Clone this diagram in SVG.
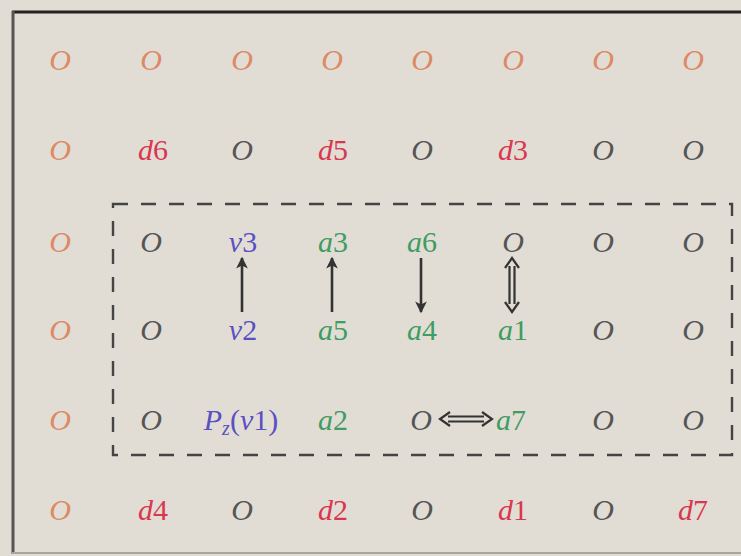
<svg xmlns="http://www.w3.org/2000/svg" width="741" height="556" viewBox="0 0 741 556">
<style>
text{font-family:"Liberation Serif","DejaVu Serif",serif;font-size:30px;font-style:italic;text-anchor:middle}
.n{font-style:normal}
.or{fill:#dc8a66}
.rd{fill:#d8384f}
.bk{fill:#555}
.bl{fill:#5b4fc4}
.gr{fill:#3f9c63}
.ar{stroke:#333;stroke-width:2.6;fill:none}
.dbl{stroke:#333;stroke-width:2.2;fill:none;stroke-linejoin:miter}
</style>
<defs>
<marker id="ah" viewBox="0 0 10 10" refX="9" refY="5" markerWidth="5" markerHeight="4.5" orient="auto" markerUnits="strokeWidth">
<path d="M0,0 L10,5 L0,10 L2.5,5 Z" fill="#333"/>
</marker>
</defs>
<rect width="741" height="556" fill="#e2ddd4"/>
<g id="frame">
<line x1="12" y1="12" x2="741" y2="12" stroke="#222" stroke-width="3"/>
<line x1="13" y1="11" x2="13" y2="554" stroke="#555" stroke-width="3"/>
<line x1="12" y1="553" x2="741" y2="553" stroke="#a8a49e" stroke-width="2"/>
</g>
<g id="region">
<rect x="113" y="204" width="619" height="251" fill="none" stroke="#444" stroke-width="2.4" stroke-dasharray="15 13"/>
</g>
<g id="row1">
<text id="n11" class="or" x="60" y="70">O</text>
<text id="n12" class="or" x="151" y="70">O</text>
<text id="n13" class="or" x="242" y="70">O</text>
<text id="n14" class="or" x="332" y="70">O</text>
<text id="n15" class="or" x="422" y="70">O</text>
<text id="n16" class="or" x="513" y="70">O</text>
<text id="n17" class="or" x="603" y="70">O</text>
<text id="n18" class="or" x="693" y="70">O</text>
</g>
<g id="row2">
<text id="n21" class="or" x="60" y="160">O</text>
<text id="d6" class="rd" x="153" y="160">d<tspan class="n">6</tspan></text>
<text id="n23" class="bk" x="242" y="160">O</text>
<text id="d5" class="rd" x="333" y="160">d<tspan class="n">5</tspan></text>
<text id="n25" class="bk" x="422" y="160">O</text>
<text id="d3" class="rd" x="513" y="160">d<tspan class="n">3</tspan></text>
<text id="n27" class="bk" x="603" y="160">O</text>
<text id="n28" class="bk" x="693" y="160">O</text>
</g>
<g id="row3">
<text id="n31" class="or" x="60" y="252">O</text>
<text id="n32" class="bk" x="151" y="252">O</text>
<text id="v3" class="bl" x="243" y="252">v<tspan class="n">3</tspan></text>
<text id="a3" class="gr" x="333" y="252">a<tspan class="n">3</tspan></text>
<text id="a6" class="gr" x="422" y="252">a<tspan class="n">6</tspan></text>
<text id="n36" class="bk" x="513" y="252">O</text>
<text id="n37" class="bk" x="603" y="252">O</text>
<text id="n38" class="bk" x="693" y="252">O</text>
</g>
<g id="row4">
<text id="n41" class="or" x="60" y="340">O</text>
<text id="n42" class="bk" x="151" y="340">O</text>
<text id="v2" class="bl" x="243" y="340">v<tspan class="n">2</tspan></text>
<text id="a5" class="gr" x="333" y="340">a<tspan class="n">5</tspan></text>
<text id="a4" class="gr" x="422" y="340">a<tspan class="n">4</tspan></text>
<text id="a1" class="gr" x="513" y="340">a<tspan class="n">1</tspan></text>
<text id="n47" class="bk" x="603" y="340">O</text>
<text id="n48" class="bk" x="693" y="340">O</text>
</g>
<g id="row5">
<text id="n51" class="or" x="60" y="430">O</text>
<text id="n52" class="bk" x="151" y="430">O</text>
<text id="pz" class="bl" x="241" y="430">P<tspan font-size="20" dy="5">z</tspan><tspan class="n" dy="-5">(</tspan>v<tspan class="n">1)</tspan></text>
<text id="a2" class="gr" x="333" y="430">a<tspan class="n">2</tspan></text>
<text id="n55" class="bk" x="421" y="430">O</text>
<text id="a7" class="gr" x="511" y="430">a<tspan class="n">7</tspan></text>
<text id="n57" class="bk" x="603" y="430">O</text>
<text id="n58" class="bk" x="693" y="430">O</text>
</g>
<g id="row6">
<text id="n61" class="or" x="60" y="520">O</text>
<text id="d4" class="rd" x="153" y="520">d<tspan class="n">4</tspan></text>
<text id="n63" class="bk" x="242" y="520">O</text>
<text id="d2" class="rd" x="333" y="520">d<tspan class="n">2</tspan></text>
<text id="n65" class="bk" x="422" y="520">O</text>
<text id="d1" class="rd" x="513" y="520">d<tspan class="n">1</tspan></text>
<text id="n67" class="bk" x="603" y="520">O</text>
<text id="d7" class="rd" x="693" y="520">d<tspan class="n">7</tspan></text>
</g>
<g id="connectors">
<line class="ar" x1="242" y1="312" x2="242" y2="258" marker-end="url(#ah)"/>
<line class="ar" x1="332" y1="312" x2="332" y2="258" marker-end="url(#ah)"/>
<line class="ar" x1="421" y1="258" x2="421" y2="312" marker-end="url(#ah)"/>
<path class="dbl" d="M509.5,266 V304 M514.5,266 V304 M505,268 L512,258 L519,268 M505,302 L512,312 L519,302"/>
<path class="dbl" d="M448,416.5 H484 M448,421.5 H484 M450,412 L440,419 L450,426 M482,412 L492,419 L482,426"/>
</g>
</svg>
